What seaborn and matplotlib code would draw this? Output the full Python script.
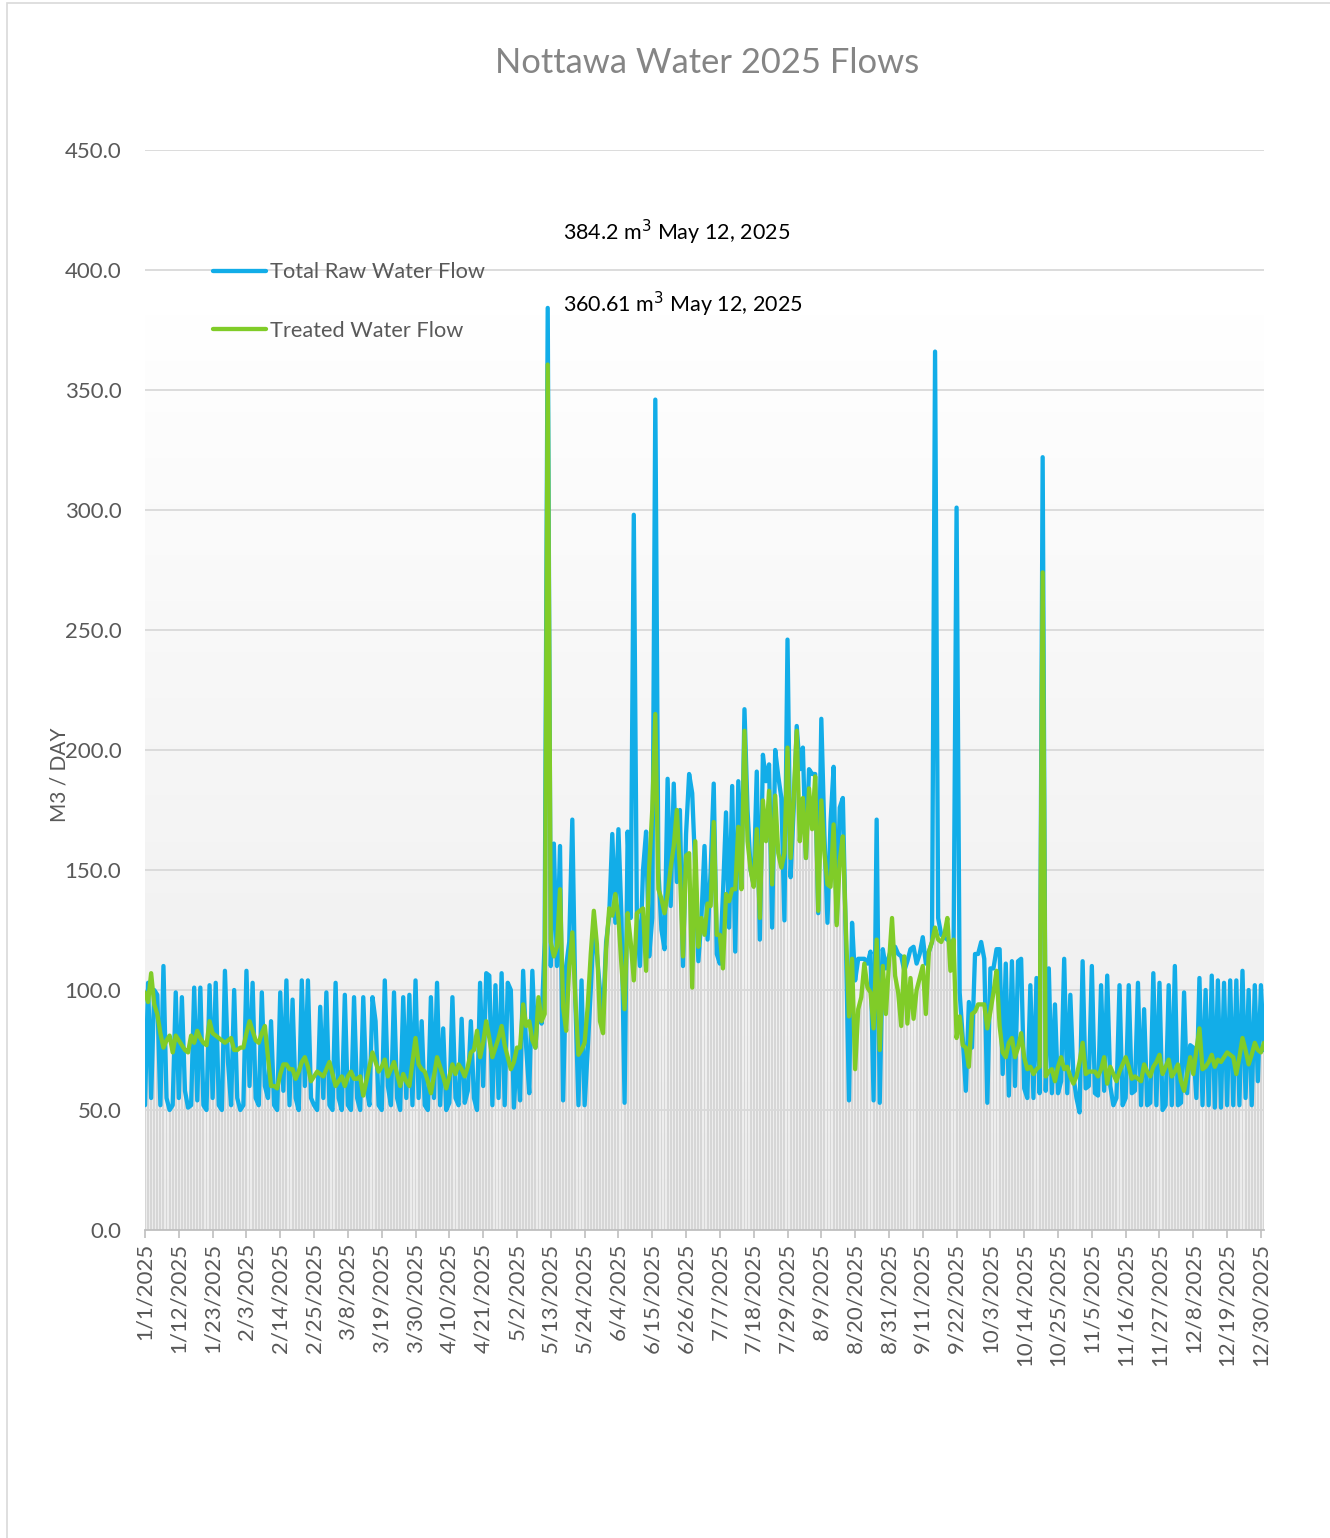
import numpy as np
import pandas as pd
import matplotlib

matplotlib.use("Agg")
import matplotlib.pyplot as plt
import seaborn as sns
from matplotlib.colors import LinearSegmentedColormap
from matplotlib.patches import Rectangle

# Daily flows in m3/day, one list per month.
raw_jan = [52, 103, 55, 100, 98, 52, 110, 55, 50, 52, 99, 55, 97, 58, 51, 52,
           101, 54, 101, 52, 50, 102, 55, 103, 52, 50, 108, 70, 52, 100, 55]
raw_feb = [50, 52, 108, 60, 103, 55, 52, 99, 60, 55, 87, 52, 50, 99, 58, 104,
           52, 96, 55, 50, 104, 60, 104, 55, 52, 50, 93, 55]
raw_mar = [99, 52, 50, 103, 55, 50, 98, 52, 50, 97, 55, 50, 97, 60, 52, 97,
           87, 52, 50, 104, 60, 52, 99, 55, 50, 97, 55, 98, 52, 104, 55]
raw_apr = [87, 52, 50, 97, 55, 103, 52, 84, 50, 53, 97, 55, 52, 88, 53, 58,
           87, 55, 50, 103, 60, 107, 106, 52, 102, 55, 107, 52, 103, 100]
raw_may = [51, 75, 54, 108, 76, 57, 108, 76, 96, 86, 120, 384.2, 110, 161, 110,
           160, 54, 110, 120, 171, 95, 52, 104, 52, 75, 100, 128, 115, 100, 90, 120]
raw_jun = [131, 165, 128, 167, 130, 53, 166, 130, 298, 130, 110, 150, 166, 114,
           130, 346, 150, 125, 117, 188, 135, 186, 145, 175, 110, 165, 190, 182,
           150, 112]
raw_jul = [130, 160, 121, 150, 186, 115, 111, 140, 174, 126, 185, 116, 187, 143,
           217, 175, 150, 144, 191, 121, 198, 187, 194, 126, 200, 189, 180, 129,
           246, 147, 175]
raw_aug = [210, 192, 201, 155, 192, 190, 190, 132, 213, 165, 128, 170, 193, 128,
           176, 180, 120, 54, 128, 104, 113, 113, 113, 111, 116, 54, 171, 53, 117,
           109, 114]
raw_sep = [118, 118, 115, 114, 108, 112, 117, 118, 111, 115, 122, 111, 116, 120,
           366, 130, 123, 122, 121, 120, 113, 301, 99, 80, 58, 95, 76, 115, 115, 120]
raw_oct = [113, 53, 109, 109, 117, 117, 65, 111, 56, 112, 60, 112, 113, 59, 55,
           102, 55, 105, 57, 322, 58, 109, 57, 94, 57, 62, 113, 57, 98, 64, 55]
raw_nov = [49, 112, 59, 60, 110, 57, 56, 102, 58, 106, 60, 52, 55, 102, 52, 55,
           102, 57, 58, 103, 52, 92, 52, 53, 107, 52, 103, 50, 52, 102]
raw_dec = [52, 110, 52, 53, 99, 57, 77, 76, 55, 105, 52, 100, 52, 106, 51, 104,
           51, 103, 52, 104, 52, 104, 52, 108, 55, 100, 52, 102, 62, 102, 75]

treated_jan = [99, 95, 107, 94, 90, 82, 76, 79, 81, 74, 81, 79, 77, 75, 74, 81,
               78, 83, 80, 78, 77, 87, 82, 81, 80, 79, 78, 79, 80, 75, 75]
treated_feb = [76, 76, 82, 87, 83, 79, 78, 82, 85, 72, 60, 60, 59, 65, 69, 69,
               67, 67, 63, 66, 70, 72, 68, 62, 64, 66, 65, 64]
treated_mar = [67, 70, 65, 60, 62, 64, 60, 64, 66, 63, 63, 64, 56, 62, 68, 74,
               70, 66, 68, 71, 64, 67, 70, 65, 60, 65, 62, 60, 70, 80, 69]
treated_apr = [67, 66, 62, 57, 64, 72, 68, 64, 59, 64, 69, 65, 69, 67, 64, 68,
               74, 75, 83, 72, 78, 87, 80, 72, 76, 80, 85, 77, 72, 67]
treated_may = [70, 76, 76, 94, 85, 87, 79, 76, 97, 87, 90, 360.61, 120, 114, 118,
               142, 93, 83, 110, 124, 96, 73, 75, 78, 93, 115, 133, 119, 87, 82, 117]
treated_jun = [134, 131, 140, 130, 110, 92, 132, 120, 104, 132, 133, 134, 108,
               151, 175, 215, 142, 138, 132, 140, 151, 160, 175, 150, 114, 156,
               157, 101, 162, 118]
treated_jul = [130, 123, 136, 135, 170, 123, 123, 109, 140, 137, 142, 142, 168,
               142, 208, 162, 150, 143, 167, 130, 179, 162, 183, 144, 181, 157,
               151, 157, 201, 155, 180]
treated_aug = [208, 162, 180, 155, 184, 167, 189, 133, 179, 157, 144, 143, 169,
               127, 154, 164, 125, 89, 113, 67, 92, 97, 111, 101, 99, 84, 121, 75,
               110, 90, 111]
treated_sep = [130, 106, 99, 85, 114, 86, 105, 88, 100, 105, 110, 90, 116, 120,
               126, 121, 120, 123, 130, 108, 121, 80, 89, 77, 76, 68, 90, 91, 94, 94]
treated_oct = [94, 84, 91, 99, 108, 85, 74, 72, 78, 80, 72, 76, 82, 72, 67, 68,
               65, 67, 68, 274, 64, 66, 67, 62, 68, 72, 67, 68, 64, 61, 64]
treated_nov = [70, 78, 65, 66, 66, 66, 64, 67, 72, 61, 68, 65, 62, 66, 69, 72,
               68, 63, 64, 63, 62, 69, 66, 64, 68, 70, 73, 65, 68, 71]
treated_dec = [64, 66, 69, 62, 58, 65, 72, 65, 75, 84, 67, 68, 70, 73, 68, 71,
               70, 72, 74, 73, 72, 65, 72, 80, 75, 69, 73, 78, 75, 74, 78]

RAW = (raw_jan + raw_feb + raw_mar + raw_apr + raw_may + raw_jun + raw_jul
       + raw_aug + raw_sep + raw_oct + raw_nov + raw_dec)
TREATED = (treated_jan + treated_feb + treated_mar + treated_apr + treated_may
           + treated_jun + treated_jul + treated_aug + treated_sep + treated_oct
           + treated_nov + treated_dec)

Y_TICKS = [0, 50, 100, 150, 200, 250, 300, 350, 400, 450]
TICK_STEP = 11  # Excel labels every 11th day

BLUE = "#12ade8"
GREEN = "#80cc28"
TEXT = "#595959"

dates = pd.date_range("2025-01-01", periods=len(RAW), freq="D")
days = np.arange(len(RAW))
df = pd.DataFrame({"day": days,
                   "Total Raw Water Flow": RAW,
                   "Treated Water Flow": TREATED})
long = df.melt(id_vars="day", var_name="series", value_name="flow")

sns.set_theme(style="white")
plt.rcParams["font.family"] = ["Lato", "DejaVu Sans"]

fig = plt.figure(figsize=(13.3, 15.38), dpi=100)
ax = fig.add_axes([145 / 1330, 1 - 1230 / 1538,
                   (1264 - 145) / 1330, (1230 - 150) / 1538])

# plot-area gradient (light grey at the bottom, white near the top)
grad = np.linspace(0, 1, 256).reshape(-1, 1)
cmap = LinearSegmentedColormap.from_list(
    "bg", [(0, "#ececec"), (0.85, "#ffffff"), (1, "#ffffff")])
ax.imshow(grad, extent=(0, days[-1], 0, 450), origin="lower", aspect="auto",
          cmap=cmap, zorder=0)

# thin grey columns under the lines
base = np.minimum(df["Total Raw Water Flow"], df["Treated Water Flow"])
ax.bar(days, base, width=0.62, color="#d6d6d6", linewidth=0, zorder=1)

ax.hlines(Y_TICKS[1:], 0, days[-1], color="#d9d9d9", linewidth=1.3, zorder=1.5)

sns.lineplot(data=long, x="day", y="flow", hue="series",
             palette={"Total Raw Water Flow": BLUE, "Treated Water Flow": GREEN},
             linewidth=3.1, ax=ax, zorder=3,
             solid_joinstyle="round", solid_capstyle="round")

ax.set_xlim(0, days[-1])
ax.set_ylim(0, 450)
ax.set_yticks(Y_TICKS)
ax.set_yticklabels([f"{v:.1f}" for v in Y_TICKS])
ticks = days[::TICK_STEP]
ax.set_xticks(ticks)
ax.set_xticklabels([f"{d.month}/{d.day}/{d.year}" for d in dates[ticks]],
                   rotation=90)
ax.tick_params(axis="y", length=0, pad=17, labelsize=16, labelcolor=TEXT)
ax.tick_params(axis="x", length=6, width=1.2, color="#bfbfbf", pad=3,
               labelsize=16, labelcolor=TEXT, bottom=True)
ax.set_xlabel("")
ax.set_ylabel("")
for side in ("top", "right", "left"):
    ax.spines[side].set_visible(False)
ax.spines["bottom"].set_color("#bfbfbf")
ax.spines["bottom"].set_linewidth(1.3)
ax.spines["bottom"].set_zorder(2)

leg = ax.legend(loc="upper left", bbox_to_anchor=(0.053, 0.904), frameon=False,
                fontsize=15.7, handlelength=2.45, handletextpad=0.15,
                labelspacing=1.75, borderaxespad=0)
for t in leg.get_texts():
    t.set_color(TEXT)

# peak annotations (May 12)
peak = int(np.argmax(RAW))
ax.text(136, 415.8, f"{RAW[peak]} m$^3$ {dates[peak]:%B} {dates[peak].day}, 2025",
        fontsize=15.5, color="black", va="center", ha="left")
ax.text(136, 385.8, f"{TREATED[peak]} m$^3$ {dates[peak]:%B} {dates[peak].day}, 2025",
        fontsize=15.5, color="black", va="center", ha="left")

fig.text(60 / 1330, 1 - 775 / 1538, "M3 / DAY", rotation=90, ha="center",
         va="center", fontsize=15, color=TEXT)
fig.text(707 / 1330, 1 - 63 / 1538, "Nottawa Water 2025 Flows", ha="center",
         va="center", fontsize=24.8, color="#858585")

fig.patches.append(Rectangle((7 / 1330, -0.1), 1.2, 1.1 - 3 / 1538,
                             transform=fig.transFigure, fill=False,
                             edgecolor="#d9d9d9", linewidth=1.2))

fig.savefig("out.png", dpi=100)
